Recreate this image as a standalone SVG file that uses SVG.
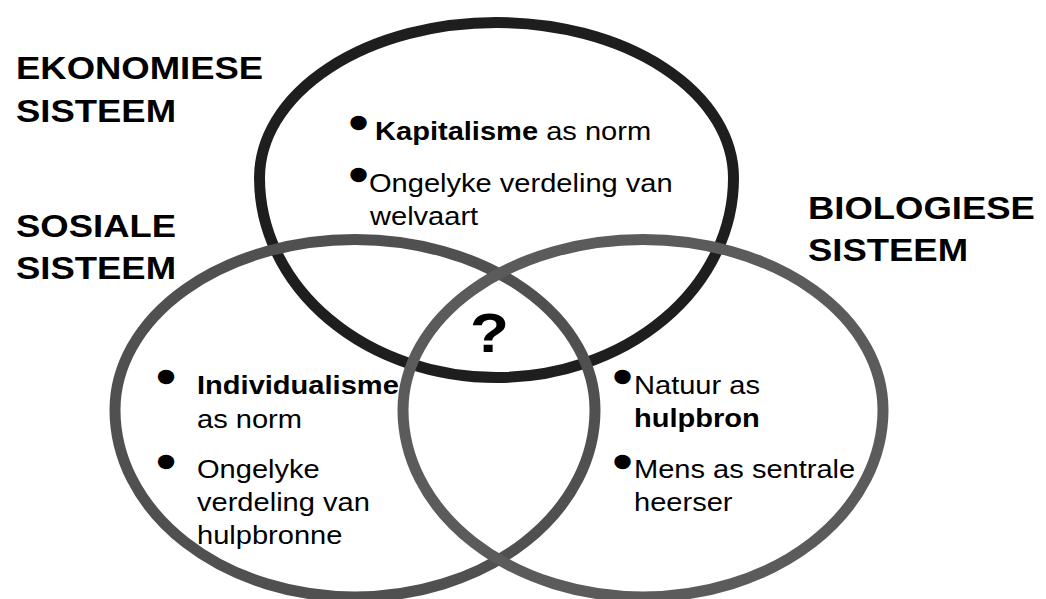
<svg xmlns="http://www.w3.org/2000/svg" width="1046" height="599" viewBox="0 0 1046 599">
<style>
.ring{fill:none;stroke-width:11}
.t{font-family:"Liberation Sans",Arial,sans-serif;fill:#000}
.title{font-size:32px;font-weight:bold}
.body{font-size:25.5px}
.b{font-weight:bold}
.bul{font-family:"Liberation Sans",Arial,sans-serif;font-size:44px;fill:#000;stroke:#000;stroke-width:2.4px;stroke-linejoin:round}
.q{font-size:56px;font-weight:bold}
</style>
<rect width="1046" height="599" fill="#fff"/>
<g id="economic">
<path class="ring" d="M259.5,178 A237,155.5 0 0 1 733.5,178 A237,199.5 0 0 1 259.5,178 Z" stroke="#1e1e1e"/>
</g>
<g id="social">
<path class="ring" d="M115,410 A240,170.5 0 0 1 595,410 A240,187 0 0 1 115,410 Z" stroke="#505050"/>
</g>
<g id="biological">
<path class="ring" d="M403,410 A240,170.5 0 0 1 883,410 A240,187 0 0 1 403,410 Z" stroke="#5b5b5b"/>
</g>
<g id="economic-text">
<text class="t title" transform="translate(16,79) scale(1.14,1)">EKONOMIESE</text>
<text class="t title" transform="translate(16,122) scale(1.14,1)">SISTEEM</text>
<text class="bul" transform="translate(349.7,137.6) scale(1.14,1)">•</text>
<text class="t body" transform="translate(375,140) scale(1.14,1)"><tspan class="b">Kapitalisme</tspan> as norm</text>
<text class="bul" transform="translate(349.7,189.6) scale(1.14,1)">•</text>
<text class="t body" transform="translate(369,192) scale(1.14,1)">Ongelyke verdeling van</text>
<text class="t body" transform="translate(370,225) scale(1.14,1)">welvaart</text>
</g>
<g id="social-text">
<text class="t title" transform="translate(16,237) scale(1.14,1)">SOSIALE</text>
<text class="t title" transform="translate(16,279) scale(1.14,1)">SISTEEM</text>
<text class="bul" transform="translate(157.2,391.6) scale(1.14,1)">•</text>
<text class="t body b" transform="translate(197,394) scale(1.14,1)">Individualisme</text>
<text class="t body" transform="translate(197,427.5) scale(1.14,1)">as norm</text>
<text class="bul" transform="translate(157.2,476.6) scale(1.14,1)">•</text>
<text class="t body" transform="translate(197,478) scale(1.14,1)">Ongelyke</text>
<text class="t body" transform="translate(197,511) scale(1.14,1)">verdeling van</text>
<text class="t body" transform="translate(197,544) scale(1.14,1)">hulpbronne</text>
</g>
<g id="biological-text">
<text class="t title" transform="translate(808,219) scale(1.14,1)">BIOLOGIESE</text>
<text class="t title" transform="translate(808,261) scale(1.14,1)">SISTEEM</text>
<text class="bul" transform="translate(613.7,391.6) scale(1.14,1)">•</text>
<text class="t body" transform="translate(634,393.5) scale(1.14,1)">Natuur as</text>
<text class="t body b" transform="translate(634,426.5) scale(1.14,1)">hulpbron</text>
<text class="bul" transform="translate(613.7,476.6) scale(1.14,1)">•</text>
<text class="t body" transform="translate(634,478) scale(1.14,1)">Mens as sentrale</text>
<text class="t body" transform="translate(634,511) scale(1.14,1)">heerser</text>
</g>
<g id="center-question">
<text class="t q" text-anchor="middle" transform="translate(489.5,352) scale(1.14,1)">?</text>
</g>
</svg>
